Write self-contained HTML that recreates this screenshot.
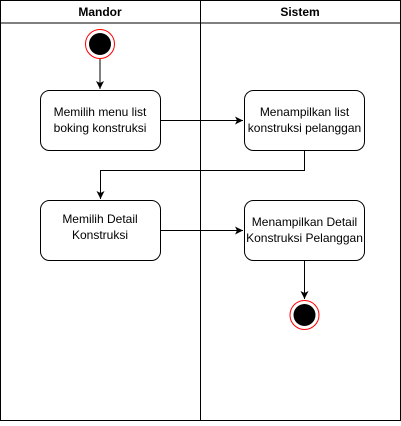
<!DOCTYPE html>
<html><head><style>body{margin:0;background:#fff}</style></head><body>
<svg width="401" height="421" xmlns="http://www.w3.org/2000/svg" font-family="Liberation Sans, Arial, sans-serif">
<defs><marker id="a" markerWidth="10" markerHeight="10" refX="8" refY="5" orient="auto" markerUnits="userSpaceOnUse"><path d="M0,1 L8,5 L0,9 L2,5 Z" fill="#000"/></marker></defs>
<rect x="0.5" y="0.5" width="400" height="420" fill="#fff" stroke="#000"/>
<line x1="0.5" y1="23" x2="400.5" y2="23" stroke="#000"/>
<line x1="200.5" y1="0" x2="200.5" y2="421" stroke="#000"/>
<text x="100" y="16" font-size="12" font-weight="bold" text-anchor="middle">Mandor</text>
<text x="300" y="16" font-size="12" font-weight="bold" text-anchor="middle">Sistem</text>
<circle cx="100" cy="44" r="14.5" fill="#fff" stroke="#f00"/>
<circle cx="100" cy="44" r="11" fill="#000"/>
<line x1="100" y1="59" x2="100" y2="89" stroke="#000" marker-end="url(#a)"/>
<rect x="40.5" y="90.5" width="120" height="60" rx="9" fill="#fff" stroke="#000"/>
<text font-size="12" text-anchor="middle"><tspan x="100" y="116">Memilih menu list</tspan><tspan x="100" y="132">boking konstruksi</tspan></text>
<line x1="160.5" y1="120.5" x2="243" y2="120.5" stroke="#000" marker-end="url(#a)"/>
<rect x="244.5" y="90.5" width="120" height="60" rx="9" fill="#fff" stroke="#000"/>
<text font-size="12" text-anchor="middle"><tspan x="304.5" y="116">Menampilkan list</tspan><tspan x="304.5" y="132">konstruksi pelanggan</tspan></text>
<polyline points="304.5,150.5 304.5,170.5 100.5,170.5 100.5,199" fill="none" stroke="#000" marker-end="url(#a)"/>
<rect x="40.5" y="200.5" width="120" height="60" rx="9" fill="#fff" stroke="#000"/>
<text font-size="12" text-anchor="middle"><tspan x="100" y="223">Memilih Detail</tspan><tspan x="100" y="239">Konstruksi</tspan></text>
<line x1="160.5" y1="230.5" x2="243" y2="230.5" stroke="#000" marker-end="url(#a)"/>
<rect x="244.5" y="200.5" width="120" height="60" rx="9" fill="#fff" stroke="#000"/>
<text font-size="12" text-anchor="middle"><tspan x="304.5" y="226">Menampilkan Detail</tspan><tspan x="304.5" y="242">Konstruksi Pelanggan</tspan></text>
<line x1="304.5" y1="260.5" x2="304.5" y2="299" stroke="#000" marker-end="url(#a)"/>
<circle cx="304.5" cy="315" r="14.5" fill="#fff" stroke="#f00"/>
<circle cx="304.5" cy="315" r="11" fill="#000"/>
</svg>
</body></html>
